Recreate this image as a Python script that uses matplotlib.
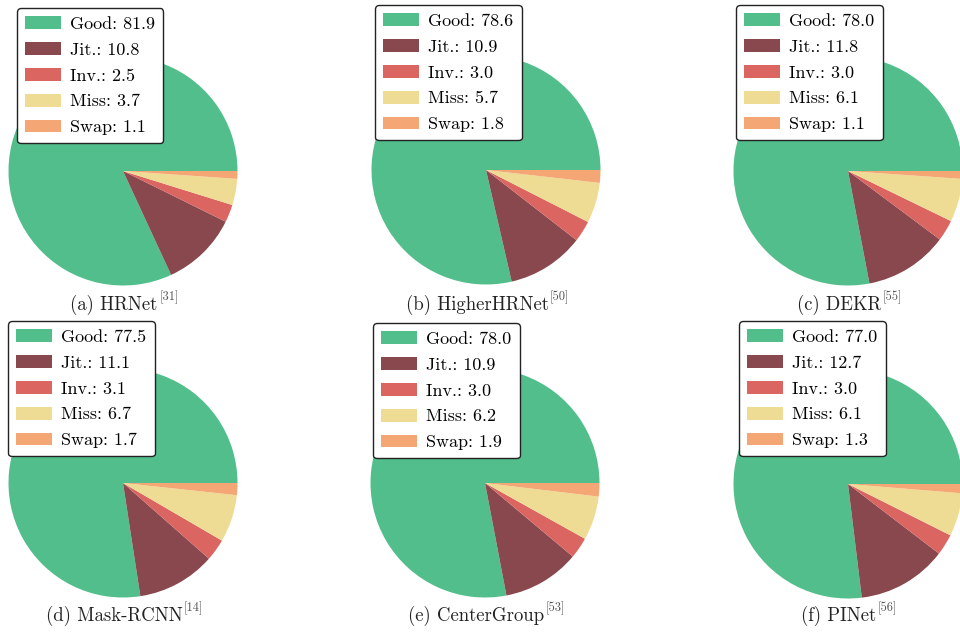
import matplotlib
matplotlib.use("Agg")
import matplotlib.pyplot as plt

plt.rcParams["font.family"] = ["cmr10", "DejaVu Serif"]
plt.rcParams["mathtext.fontset"] = "cm"
plt.rcParams["axes.unicode_minus"] = False

categories = ["Good", "Jit.", "Inv.", "Miss", "Swap"]
colors = ["#52BE8C", "#88484E", "#DB6561", "#EEDC94", "#F4A774"]

models = ["HRNet", "HigherHRNet", "DEKR", "Mask-RCNN", "CenterGroup", "PINet"]
refs = ["31", "50", "55", "14", "53", "56"]
panel_tags = ["a", "b", "c", "d", "e", "f"]

hrnet = [81.9, 10.8, 2.5, 3.7, 1.1]
higherhrnet = [78.6, 10.9, 3.0, 5.7, 1.8]
dekr = [78.0, 11.8, 3.0, 6.1, 1.1]
mask_rcnn = [77.5, 11.1, 3.1, 6.7, 1.7]
centergroup = [78.0, 10.9, 3.0, 6.2, 1.9]
pinet = [77.0, 12.7, 3.0, 6.1, 1.3]
series = [hrnet, higherhrnet, dekr, mask_rcnn, centergroup, pinet]

W, H = 960, 632
fig = plt.figure(figsize=(W / 100, H / 100), dpi=100)

# layout in pixels: pie centres, legend top-left corners, caption baselines
centers = [(123, 171), (486, 170), (848, 171),
           (123, 483), (485, 483), (848, 484)]
legend_corners = [(17, 8), (375, 5), (736, 5),
                  (8, 321), (373, 323), (739, 321)]
caption_base = [310, 310, 310, 621, 621, 621]
R = 114.5
pad = 1.03

for i, vals in enumerate(series):
    cx, cy = centers[i]
    r = R * pad
    ax = fig.add_axes([(cx - r) / W, 1 - (cy + r) / H, 2 * r / W, 2 * r / H])
    wedges, _ = ax.pie(vals, colors=colors, startangle=0, counterclock=True,
                       radius=1.0)
    ax.set_xlim(-pad, pad)
    ax.set_ylim(-pad, pad)
    ax.set_aspect("equal")
    ax.axis("off")

    labels = [f"{c}: {v:.1f}" for c, v in zip(categories, vals)]
    lx, ly = legend_corners[i]
    leg = ax.legend(wedges, labels, loc="upper left",
                    bbox_to_anchor=(lx / W, 1 - ly / H),
                    bbox_transform=fig.transFigure, borderaxespad=0,
                    fontsize=13, handlelength=2.0, handleheight=0.72,
                    handletextpad=0.5, labelspacing=0.56, borderpad=0.45,
                    frameon=True, fancybox=True, framealpha=1.0)
    leg.get_frame().set_edgecolor("#222222")
    leg.get_frame().set_linewidth(1.0)
    leg.set_zorder(10)

    # caption with a bracketed citation raised after the model name
    cap = fig.text((cx - 9) / W, 1 - caption_base[i] / H,
                   f"({panel_tags[i]}) {models[i]}",
                   ha="center", va="baseline", fontsize=13.5, color="#222222")
    fig.add_artist(plt.Annotation(f"[{refs[i]}]", xy=(1, 1), xycoords=cap,
                                  xytext=(1, 3), textcoords="offset points",
                                  ha="left", va="top", fontsize=9,
                                  color="#555555"))

fig.savefig("out.png", dpi=100)
